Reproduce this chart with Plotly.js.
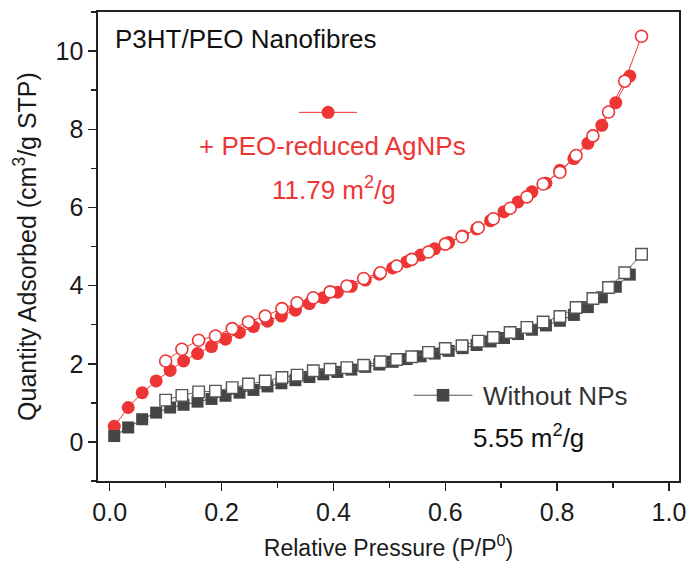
<!DOCTYPE html>
<html>
<head>
<meta charset="utf-8">
<script src="https://cdn.plot.ly/plotly-3.0.1.min.js"></script>
<style>
html,body{margin:0;padding:0;background:#fff;}
#chart{width:692px;height:569px;}
</style>
</head>
<body>
<div id="chart"></div>
<script>
// Adsorption branch relative pressures (filled symbols)
const adsX = [0.008,0.033,0.058,0.083,0.108,0.132,0.157,0.182,0.207,0.232,0.257,0.282,0.307,0.332,0.357,0.382,0.407,0.432,0.457,0.482,0.506,0.531,0.556,0.581,0.606,0.631,0.656,0.681,0.705,0.730,0.755,0.780,0.805,0.830,0.855,0.880,0.905,0.930];
// Desorption branch relative pressures (open symbols)
const desX = [0.951,0.921,0.892,0.864,0.834,0.805,0.775,0.746,0.716,0.686,0.659,0.630,0.600,0.570,0.540,0.513,0.484,0.454,0.424,0.394,0.364,0.335,0.308,0.278,0.248,0.219,0.189,0.159,0.129,0.100];

// + PEO-reduced AgNPs
const agAdsY = [0.40,0.88,1.26,1.56,1.83,2.07,2.26,2.44,2.63,2.80,2.95,3.09,3.22,3.37,3.54,3.69,3.83,3.98,4.14,4.29,4.45,4.61,4.78,4.94,5.10,5.27,5.45,5.66,5.89,6.14,6.40,6.62,6.95,7.25,7.64,8.10,8.68,9.36];
const agDesY = [10.38,9.23,8.44,7.83,7.33,6.90,6.60,6.27,5.98,5.71,5.48,5.25,5.06,4.86,4.67,4.50,4.33,4.18,3.99,3.84,3.69,3.56,3.41,3.22,3.07,2.90,2.71,2.60,2.37,2.07];

// Without NPs
const noAdsY = [0.15,0.37,0.58,0.75,0.88,0.95,1.03,1.10,1.18,1.26,1.33,1.42,1.50,1.58,1.66,1.73,1.79,1.85,1.92,1.98,2.05,2.12,2.19,2.26,2.33,2.40,2.48,2.57,2.66,2.76,2.87,2.98,3.10,3.25,3.45,3.70,3.97,4.28];
const noDesY = [4.80,4.33,3.95,3.67,3.44,3.21,3.07,2.93,2.80,2.67,2.58,2.46,2.39,2.29,2.18,2.11,2.05,1.96,1.90,1.86,1.82,1.71,1.65,1.56,1.48,1.39,1.30,1.28,1.19,1.07];

const xTicks = [0, 0.2, 0.4, 0.6, 0.8, 1.0];
const xTickText = ["0.0","0.2","0.4","0.6","0.8","1.0"];
const yTicks = [0, 2, 4, 6, 8, 10];
const yTickText = ["0","2","4","6","8","10"];

const RED = '#EE3535';
const DARK = '#454545';
const FONT = 'Arial, "Liberation Sans", sans-serif';

const traces = [
  {x: adsX, y: agAdsY, mode: 'lines+markers', name: 'AgNPs ads',
   line: {color: RED, width: 1},
   marker: {symbol: 'circle', size: 13, color: RED, line: {width: 0}}},
  {x: desX, y: agDesY, mode: 'lines+markers', name: 'AgNPs des',
   line: {color: RED, width: 1},
   marker: {symbol: 'circle', size: 12, color: '#ffffff', line: {color: RED, width: 1.6}}},
  {x: adsX, y: noAdsY, mode: 'lines+markers', name: 'No NPs ads',
   line: {color: DARK, width: 1},
   marker: {symbol: 'square', size: 12, color: DARK, line: {width: 0}}},
  {x: desX, y: noDesY, mode: 'lines+markers', name: 'No NPs des',
   line: {color: '#666666', width: 1},
   marker: {symbol: 'square', size: 11.5, color: '#ffffff', line: {color: '#555555', width: 1.4}}}
];

const W = 581.5, H = 469.2, L = 98, T = 12.3;
const px = v => (v - L) / W;
const py = v => (T + H - v) / H;

const layout = {
  width: 692, height: 569,
  margin: {l: 98, r: 12.5, t: 12.3, b: 87.5},
  paper_bgcolor: '#fff', plot_bgcolor: '#fff',
  showlegend: false,
  font: {family: FONT, color: '#1a1a1a', size: 25},
  xaxis: {
    range: [-0.021, 1.018], tickvals: xTicks, ticktext: xTickText,
    ticks: 'outside', ticklen: 8, tickwidth: 1.5, tickcolor: '#222',
    minor: {dtick: 0.1, tick0: 0, ticks: 'outside', ticklen: 5, tickwidth: 1.5, tickcolor: '#222'},
    showline: true, linewidth: 1.6, linecolor: '#222', mirror: true,
    showgrid: false, zeroline: false,
    tickfont: {family: FONT, size: 25, color: '#1a1a1a'},
    title: {text: 'Relative Pressure (P/P<sup>0</sup>)', font: {family: FONT, size: 23, color: '#1a1a1a'}, standoff: 15}
  },
  yaxis: {
    range: [-1, 11], tickvals: yTicks, ticktext: yTickText,
    ticks: 'outside', ticklen: 8, tickwidth: 1.5, tickcolor: '#222',
    minor: {dtick: 1, tick0: 0, ticks: 'outside', ticklen: 5, tickwidth: 1.5, tickcolor: '#222'},
    showline: true, linewidth: 1.6, linecolor: '#222', mirror: true,
    showgrid: false, zeroline: false,
    tickfont: {family: FONT, size: 25, color: '#1a1a1a'},
    title: {text: 'Quantity Adsorbed (cm<sup>3</sup>/g STP)', font: {family: FONT, size: 25, color: '#1a1a1a'}, standoff: 12}
  },
  shapes: [
    {type: 'line', xref: 'paper', yref: 'paper', x0: px(299), x1: px(357.3), y0: py(112.7), y1: py(112.7), line: {color: RED, width: 1}},
    {type: 'circle', xref: 'paper', yref: 'paper', xsizemode: 'pixel', ysizemode: 'pixel',
     xanchor: px(328.3), yanchor: py(112.7), x0: -6.5, x1: 6.5, y0: -6.5, y1: 6.5,
     fillcolor: RED, line: {width: 0}},
    {type: 'line', xref: 'paper', yref: 'paper', x0: px(414), x1: px(472.7), y0: py(395.7), y1: py(395.7), line: {color: '#555', width: 1}},
    {type: 'rect', xref: 'paper', yref: 'paper', xsizemode: 'pixel', ysizemode: 'pixel',
     xanchor: px(443.3), yanchor: py(395.7), x0: -6.3, x1: 6.3, y0: -6.3, y1: 6.3,
     fillcolor: DARK, line: {width: 0}}
  ],
  annotations: [
    {text: 'P3HT/PEO Nanofibres', xref: 'paper', yref: 'paper', x: px(113), y: py(39), xanchor: 'left', yanchor: 'middle', showarrow: false,
     font: {family: FONT, size: 26, color: '#111'}},
    {text: '+ PEO-reduced AgNPs', xref: 'paper', yref: 'paper', x: px(332.5), y: py(146), xanchor: 'center', yanchor: 'middle', showarrow: false,
     font: {family: FONT, size: 26, color: RED}},
    {text: '11.79 m<sup>2</sup>/g', xref: 'paper', yref: 'paper', x: px(334), y: py(189), xanchor: 'center', yanchor: 'middle', showarrow: false,
     font: {family: FONT, size: 26, color: RED}},
    {text: 'Without NPs', xref: 'paper', yref: 'paper', x: px(481), y: py(396), xanchor: 'left', yanchor: 'middle', showarrow: false,
     font: {family: FONT, size: 26, color: '#333'}},
    {text: '5.55 m<sup>2</sup>/g', xref: 'paper', yref: 'paper', x: px(471), y: py(437), xanchor: 'left', yanchor: 'middle', showarrow: false,
     font: {family: FONT, size: 26, color: '#111'}}
  ]
};

Plotly.newPlot('chart', traces, layout, {displayModeBar: false, staticPlot: true});
</script>
</body>
</html>
